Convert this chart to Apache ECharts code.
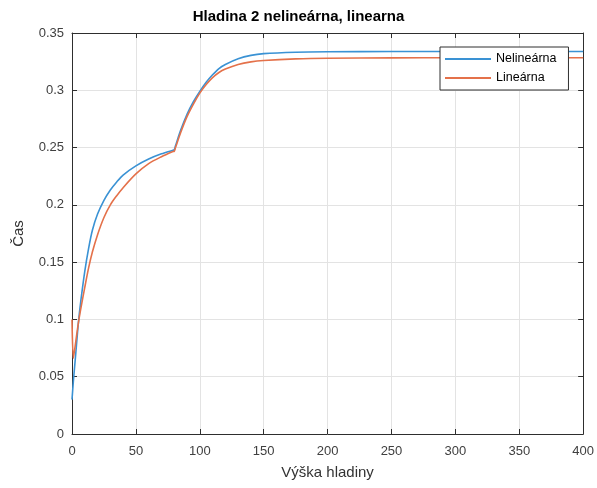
<!DOCTYPE html>
<html>
<head>
<meta charset="utf-8">
<script src="https://cdn.jsdelivr.net/npm/echarts@6/dist/echarts.min.js"></script>
<style>
  html, body { margin: 0; padding: 0; background: #fff; }
  #chart { width: 597px; height: 488px; }
</style>
</head>
<body>
<div id="chart"></div>
<script>
const titleText = 'Hladina 2 nelineárna, linearna';
const xName = 'Výška hladiny';
const yName = 'Čas';
const seriesNames = ['Nelineárna', 'Lineárna'];

const xs = [0, 1, 2, 3, 5, 7, 10, 13, 16, 20, 25, 30, 35, 40, 50, 60, 70, 79, 80, 81,
  85, 90, 95, 100, 105, 110, 115, 120, 130, 140, 150, 175, 200, 250, 300, 400];

const nelinearna = [0.030, 0.045, 0.058, 0.071, 0.097, 0.117, 0.142, 0.162, 0.178, 0.192,
  0.204, 0.213, 0.220, 0.226, 0.234, 0.240, 0.2445, 0.2477, 0.248, 0.2515,
  0.265, 0.279, 0.290, 0.299, 0.307, 0.3135, 0.319, 0.3225, 0.3275, 0.3305, 0.332,
  0.3332, 0.3336, 0.3338, 0.3338, 0.3338];

const linearna = [0.100, 0.066, 0.073, 0.081, 0.097, 0.110, 0.128, 0.145, 0.159, 0.174,
  0.189, 0.200, 0.208, 0.215, 0.227, 0.236, 0.242, 0.2465, 0.2468, 0.2500,
  0.263, 0.277, 0.288, 0.2975, 0.305, 0.311, 0.3155, 0.3185, 0.3225, 0.3248, 0.326,
  0.3274, 0.328, 0.3283, 0.3284, 0.3284];

const xTicks = [0, 50, 100, 150, 200, 250, 300, 350, 400];
const yTicks = [0, 0.05, 0.1, 0.15, 0.2, 0.25, 0.3, 0.35];

const colors = ['#3a92d4', '#e4714a'];
const axisColor = '#2e2e2e';
const fontFamily = 'Liberation Sans, Arial, sans-serif';

const chart = echarts.init(document.getElementById('chart'), null, { renderer: 'canvas' });

function pairs(x, y) { return x.map((v, i) => [v, y[i]]); }

const xBase = {
  type: 'value', min: xTicks[0], max: xTicks[xTicks.length - 1], interval: 50,
  axisLine: { show: true, onZero: false, lineStyle: { color: axisColor, width: 1 } },
  axisTick: { show: true, inside: true, length: 5, lineStyle: { color: axisColor } }
};
const yBase = {
  type: 'value', min: yTicks[0], max: yTicks[yTicks.length - 1], interval: 0.05,
  axisLine: { show: true, onZero: false, lineStyle: { color: axisColor, width: 1 } },
  axisTick: { show: true, inside: true, length: 5, lineStyle: { color: axisColor } }
};

chart.setOption({
  animation: false,
  backgroundColor: '#fff',
  color: colors,
  title: {
    text: titleText, left: 'center', top: 4,
    textStyle: { fontFamily, fontSize: 15, fontWeight: 'bold', color: '#000' }
  },
  grid: { left: 72, right: 13, top: 33, bottom: 54, containLabel: false },
  legend: {
    orient: 'vertical', left: 440, top: 47, z: 10,
    data: seriesNames.map(n => ({ name: n, icon: 'rect' })),
    backgroundColor: '#fff', borderColor: '#2e2e2e', borderWidth: 1,
    padding: [5, 12, 5, 5], itemWidth: 46, itemHeight: 2, itemGap: 5,
    textStyle: { fontFamily, fontSize: 12.5, color: '#000', lineHeight: 14 }
  },
  xAxis: [
    Object.assign({}, xBase, {
      position: 'bottom',
      name: xName, nameLocation: 'middle', nameGap: 31,
      nameTextStyle: { fontFamily, fontSize: 15, color: '#333' },
      axisLabel: { margin: 11, fontFamily, fontSize: 13, color: '#404040' },
      splitLine: { show: true, lineStyle: { color: '#e3e3e3', width: 1 } }
    }),
    Object.assign({}, xBase, {
      position: 'top', axisLabel: { show: false }, splitLine: { show: false }
    })
  ],
  yAxis: [
    Object.assign({}, yBase, {
      position: 'left',
      name: yName, nameLocation: 'middle', nameGap: 46,
      nameTextStyle: { fontFamily, fontSize: 15, color: '#333' },
      axisLabel: {
        margin: 8, fontFamily, fontSize: 13, color: '#404040',
        formatter: v => String(parseFloat(v.toFixed(2)))
      },
      splitLine: { show: true, lineStyle: { color: '#e3e3e3', width: 1 } }
    }),
    Object.assign({}, yBase, {
      position: 'right', axisLabel: { show: false }, splitLine: { show: false }
    })
  ],
  series: [
    {
      name: seriesNames[0], type: 'line', xAxisIndex: 0, yAxisIndex: 0,
      data: pairs(xs, nelinearna), symbol: 'none', smooth: 0.3,
      lineStyle: { width: 1.6, color: colors[0] }, z: 3
    },
    {
      name: seriesNames[1], type: 'line', xAxisIndex: 0, yAxisIndex: 0,
      data: pairs(xs, linearna), symbol: 'none', smooth: 0.3,
      lineStyle: { width: 1.6, color: colors[1] }, z: 4
    }
  ]
});
</script>
</body>
</html>
